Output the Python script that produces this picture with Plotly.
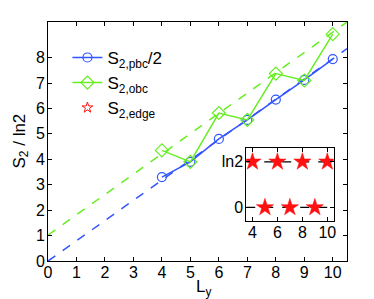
import plotly.graph_objects as go

Ly = [4, 5, 6, 7, 8, 9, 10]
s2_pbc_half = [3.3, 3.9, 4.8, 5.55, 6.35, 7.12, 7.94]
s2_obc = [4.35, 3.9, 5.82, 5.55, 7.37, 7.1, 8.92]
fit_x = [0, 10.5]
fit_pbc = [0.0, 8.35]
fit_obc = [1.02, 9.4]

edge_x_ln2 = [4, 6, 8, 10]
edge_x_zero = [5, 7, 9]
LN2 = 0.6931

blue = "#3355ff"
green = "#66ee22"
red = "#ff1111"

fig = go.Figure()
fig.add_trace(go.Scatter(x=fit_x, y=fit_pbc, mode="lines", line=dict(color=blue, width=1.5, dash="dash"), showlegend=False))
fig.add_trace(go.Scatter(x=fit_x, y=fit_obc, mode="lines", line=dict(color=green, width=1.5, dash="dash"), showlegend=False))
fig.add_trace(go.Scatter(x=Ly, y=s2_pbc_half, mode="lines+markers", name="S<sub>2,pbc</sub>/2",
                         line=dict(color=blue, width=1.5),
                         marker=dict(symbol="circle-open", size=9, color=blue, line=dict(width=1.2))))
fig.add_trace(go.Scatter(x=Ly, y=s2_obc, mode="lines+markers", name="S<sub>2,obc</sub>",
                         line=dict(color=green, width=1.5),
                         marker=dict(symbol="diamond-open", size=10, color=green, line=dict(width=1.2))))
fig.add_trace(go.Scatter(x=[None], y=[None], mode="markers", name="S<sub>2,edge</sub>",
                         marker=dict(symbol="star-open", size=8, color=red, line=dict(width=1))))

# inset
fig.add_trace(go.Scatter(x=[3.5, 10.5], y=[LN2, LN2], mode="lines", xaxis="x2", yaxis="y2",
                         line=dict(color="black", width=1.3, dash="dash"), showlegend=False))
fig.add_trace(go.Scatter(x=[3.5, 10.5], y=[0, 0], mode="lines", xaxis="x2", yaxis="y2",
                         line=dict(color="black", width=1.3, dash="dash"), showlegend=False))
fig.add_trace(go.Scatter(x=edge_x_ln2, y=[LN2] * len(edge_x_ln2), mode="markers", xaxis="x2", yaxis="y2",
                         marker=dict(symbol="star", size=13, color=red, line=dict(width=0.5, color=red)), showlegend=False))
fig.add_trace(go.Scatter(x=edge_x_zero, y=[0] * len(edge_x_zero), mode="markers", xaxis="x2", yaxis="y2",
                         marker=dict(symbol="star", size=13, color=red, line=dict(width=0.5, color=red)), showlegend=False))

axis_common = dict(showgrid=False, zeroline=False, showline=True, linecolor="black", linewidth=1,
                   mirror="ticks", ticks="inside", ticklen=4, tickcolor="black", automargin=False,
                   tickfont=dict(family="Liberation Sans, Arial", size=16, color="black"))

# page body has an 8px default margin, so the figure is made 8px smaller and shifted
fig.update_layout(
    width=366, height=291,
    margin=dict(l=40, r=27, t=14, b=38),
    paper_bgcolor="white", plot_bgcolor="white",
    font=dict(family="Liberation Sans, Arial", color="black"),
    xaxis=dict(range=[0, 10.5], tickvals=list(range(0, 11)), domain=[0, 1], ticklabelstandoff=-3, **axis_common),
    yaxis=dict(range=[0, 9.4], tickvals=list(range(0, 9)), domain=[0, 1], ticklabelstandoff=-1, **axis_common),
    xaxis2=dict(range=[3.5, 10.5], tickvals=[4, 6, 8, 10], domain=[0.663, 0.955], anchor="y2",
                ticklabelstandoff=-3, **axis_common),
    yaxis2=dict(range=[-0.2, 0.9], tickvals=[0, LN2], ticktext=["0", "ln2"], domain=[0.169, 0.472], anchor="x2",
                ticklabelstandoff=-1, **axis_common),
    legend=dict(x=0.065, y=0.925, xanchor="left", yanchor="top", bgcolor="rgba(0,0,0,0)",
                font=dict(size=17, family="Liberation Sans, Arial"), itemwidth=30, tracegroupgap=0),
    showlegend=True,
)
fig.add_annotation(text="L<sub>y</sub>", xref="paper", yref="paper", x=0.52, y=0, yshift=-27,
                   xanchor="center", yanchor="middle", showarrow=False, font=dict(size=17))
fig.add_annotation(text="S<sub>2</sub> / ln2", xref="paper", yref="paper", x=0, y=0.5, xshift=-28,
                   xanchor="center", yanchor="middle", textangle=-90, showarrow=False, font=dict(size=17))
fig.add_shape(type="rect", xref="x2 domain", yref="y2 domain", x0=0, x1=1, y0=0, y1=1,
              fillcolor="white", line=dict(width=0), layer="below")

fig.write_html("out.html")
